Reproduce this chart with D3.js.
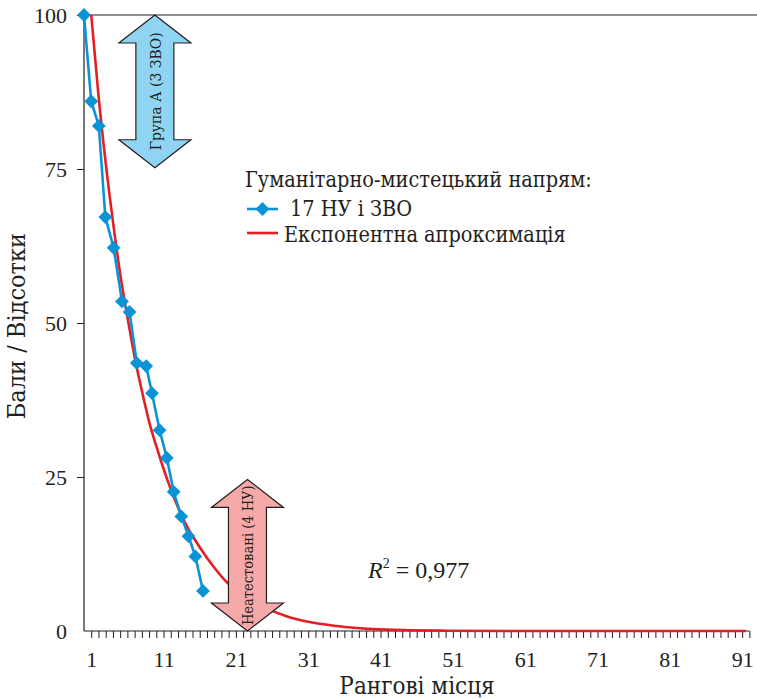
<!DOCTYPE html>
<html>
<head>
<meta charset="utf-8">
<script src="https://cdn.jsdelivr.net/npm/d3@7"></script>
<style>
  body { margin: 0; background: #fff; }
  svg text { fill: #231f20; }
</style>
</head>
<body>
<script>
// data
var ranks = [0, 1, 2.05, 2.95, 4.1, 5.25, 6.3, 7.3, 8.6, 9.4, 10.45, 11.45, 12.4, 13.45, 14.45, 15.4, 16.45];
var scores = [100, 86, 82, 67.2, 62.2, 53.5, 51.8, 43.5, 43, 38.6, 32.6, 28.1, 22.6, 18.6, 15.4, 12.1, 6.5];

var fitRanks = [1, 2, 3, 4, 5, 6, 7, 8, 9, 10, 12, 14, 16, 18, 20, 22, 25, 28, 31, 35, 40, 45, 50, 60, 70, 80, 91.5];
var fitValues = [100, 87, 76, 66.5, 58, 51, 44.5, 39, 34, 30, 23, 17.5, 13.6, 10.3, 7.6, 5.7, 3.8, 2.4, 1.5, 0.8, 0.3, 0.12, 0.05, 0, 0, 0, 0];

var xTicks = d3.range(1, 93);
var xLabels = [1, 11, 21, 31, 41, 51, 61, 71, 81, 91];
var yTicks = [0, 25, 50, 75, 100];

var legendTitle = "Гуманітарно-мистецький напрям:";
var seriesName = "17 НУ і ЗВО";
var fitName = "Експонентна апроксимація";

var width = 757, height = 699;
var blue = "#0a93d5", red = "#e31e25", ink = "#231f20";
var serif = "'Liberation Serif', 'Times New Roman', serif";
// Cyrillic text: serif face that has the glyphs
var cyr = "'DejaVu Serif Condensed', 'DejaVu Serif', serif";

var svg = d3.select("body").append("svg")
    .attr("width", width)
    .attr("height", height)
    .attr("font-family", serif);

var x = d3.scaleLinear().domain([0, 92]).range([84, 749.4]);
var y = d3.scaleLinear().domain([0, 100]).range([631, 15]);

// top frame line
svg.append("line")
    .attr("x1", x(0)).attr("x2", width)
    .attr("y1", y(100)).attr("y2", y(100))
    .attr("stroke", ink).attr("stroke-width", 1.2);

// x axis
var xAxis = svg.append("g")
    .attr("transform", "translate(0," + y(0) + ")")
    .call(d3.axisBottom(x)
        .tickValues(xTicks)
        .tickSize(7)
        .tickPadding(13)
        .tickFormat(function(d){ return xLabels.indexOf(d) >= 0 ? d : ""; }));
xAxis.attr("font-family", serif);
xAxis.select(".domain").attr("d", "M" + x(0) + ",0H" + x(92)).attr("stroke", ink).attr("stroke-width", 1.2);
xAxis.selectAll(".tick line").attr("stroke", ink).attr("stroke-width", 1);
xAxis.selectAll("text").attr("font-size", 22).attr("fill", ink);

// y axis
var yAxis = svg.append("g")
    .attr("transform", "translate(" + x(0) + ",0)")
    .call(d3.axisLeft(y).tickValues(yTicks).tickSize(7).tickPadding(10));
yAxis.attr("font-family", serif);
yAxis.select(".domain").attr("d", "M0," + y(0) + "V" + y(100)).attr("stroke", ink).attr("stroke-width", 1.2);
yAxis.selectAll(".tick line").attr("stroke", ink).attr("stroke-width", 1)
    .attr("display", function(d){ return d == 0 ? "none" : null; });
yAxis.selectAll("text").attr("font-size", 22).attr("fill", ink);

// axis titles
svg.append("text")
    .attr("x", 417).attr("y", 694)
    .attr("text-anchor", "middle")
    .attr("font-family", cyr)
    .attr("font-size", 24)
    .text("Рангові місця");

svg.append("text")
    .attr("transform", "translate(25," + y(49.5) + ") rotate(-90)")
    .attr("text-anchor", "middle")
    .attr("font-family", cyr)
    .attr("font-size", 25)
    .text("Бали / Відсотки");

// double arrows
function doubleArrow(cx, top, bottom, fill, label, size){
    var hw = 36, sw = 19, hh = 28;
    var pts = [
        [cx, top], [cx + hw, top + hh], [cx + sw, top + hh],
        [cx + sw, bottom - hh], [cx + hw, bottom - hh], [cx, bottom],
        [cx - hw, bottom - hh], [cx - sw, bottom - hh], [cx - sw, top + hh],
        [cx - hw, top + hh]
    ];
    svg.append("path")
        .attr("d", "M" + pts.join("L") + "Z")
        .attr("fill", fill)
        .attr("stroke", ink)
        .attr("stroke-width", 1.2)
        .attr("stroke-linejoin", "miter");
    svg.append("text")
        .attr("transform", "translate(" + (cx + 6) + "," + ((top + bottom) / 2) + ") rotate(-90)")
        .attr("text-anchor", "middle")
        .attr("font-family", cyr)
        .attr("font-size", size)
        .text(label);
}

// red fit curve
var fitLine = d3.line()
    .x(function(d, i){ return x(fitRanks[i]); })
    .y(function(d){ return y(d); })
    .curve(d3.curveMonotoneX);

svg.append("path")
    .attr("d", fitLine(fitValues))
    .attr("fill", "none")
    .attr("stroke", red)
    .attr("stroke-width", 2.6);

doubleArrow(x(9.8), y(100), y(75.2), "#8fd4f2", "Група А (3 ЗВО)", 15.5);
doubleArrow(x(22.6), y(24.6), y(0), "#f5a9a9", "Неатестовані (4 НУ)", 14.5);

// blue series
var dataLine = d3.line()
    .x(function(d, i){ return x(ranks[i]); })
    .y(function(d){ return y(d); });

svg.append("path")
    .attr("d", dataLine(scores))
    .attr("fill", "none")
    .attr("stroke", blue)
    .attr("stroke-width", 2.6);

var diamond = d3.symbol().type(d3.symbolSquare).size(95);
svg.selectAll(".pt")
    .data(scores)
    .enter()
    .append("path")
    .attr("class", "pt")
    .attr("d", diamond)
    .attr("transform", function(d, i){ return "translate(" + x(ranks[i]) + "," + y(d) + ") rotate(45)"; })
    .attr("fill", blue);

// legend
var lg = svg.append("g").attr("transform", "translate(245,0)").attr("font-family", cyr);
lg.append("text").attr("x", 0).attr("y", 187).attr("font-size", 21.5).text(legendTitle);
lg.append("line").attr("x1", 2).attr("x2", 33).attr("y1", 209).attr("y2", 209)
    .attr("stroke", blue).attr("stroke-width", 2.6);
lg.append("path").attr("d", diamond)
    .attr("transform", "translate(17.5,209) rotate(45)")
    .attr("fill", blue);
lg.append("text").attr("x", 45).attr("y", 216).attr("font-size", 21.5).text(seriesName);
lg.append("line").attr("x1", 2).attr("x2", 33).attr("y1", 233).attr("y2", 233)
    .attr("stroke", red).attr("stroke-width", 2.6);
lg.append("text").attr("x", 39).attr("y", 242).attr("font-size", 21.5).text(fitName);

// R squared
var r2 = svg.append("text").attr("x", 368).attr("y", 578).attr("font-size", 24);
r2.append("tspan").attr("font-style", "italic").text("R");
r2.append("tspan").attr("font-size", 14).attr("dy", -10).text("2");
r2.append("tspan").attr("dy", 10).text(" = 0,977");
</script>
</body>
</html>
